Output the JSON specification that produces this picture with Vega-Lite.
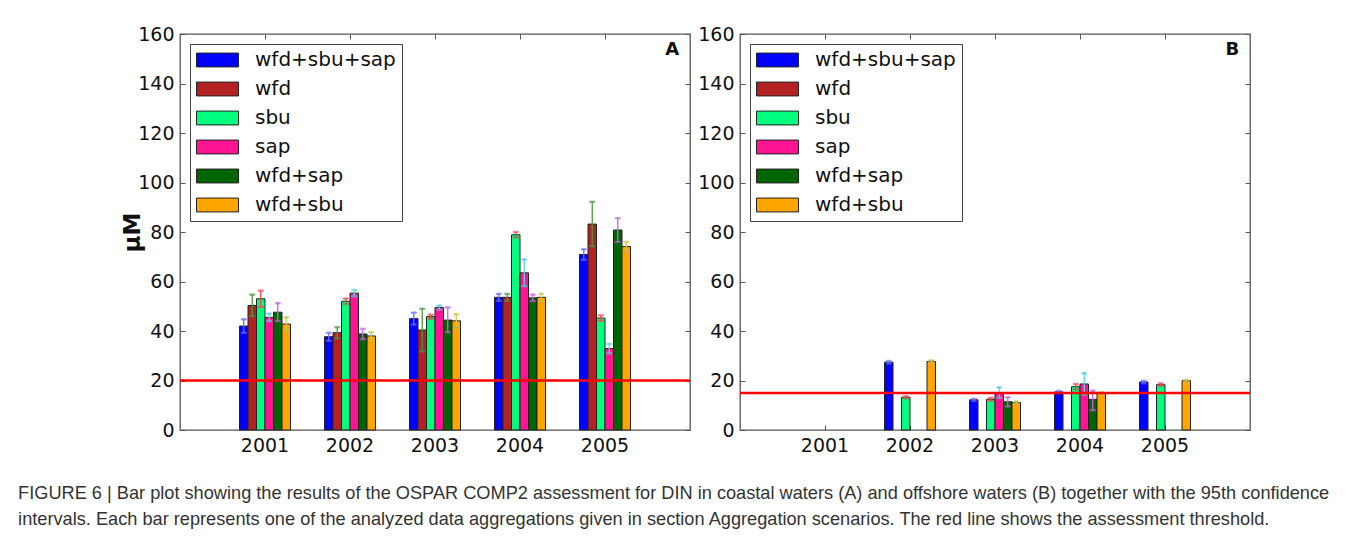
{
  "$schema": "https://vega.github.io/schema/vega-lite/v6.json",
  "padding": {"left": 18, "top": 24, "right": 5, "bottom": 5},
  "background": "white",
  "config": {
    "font": "DejaVu Sans",
    "view": {"stroke": "#555", "strokeWidth": 1.3},
    "axis": {"grid": false, "domain": false, "labelFont": "DejaVu Sans", "labelFontSize": 19, "labelColor": "#111", "tickColor": "#555", "tickSize": -5, "labelPadding": 11},
    "concat": {"spacing": 5},
    "legend": {"orient": "top-left", "title": null, "offset": 10, "padding": 6, "strokeColor": "#444", "fillColor": "white", "symbolType": "M-1,-0.33H1V0.33H-1Z", "symbolSize": 1764, "symbolStrokeColor": "#222", "symbolStrokeWidth": 1, "symbolOpacity": 1, "labelFont": "DejaVu Sans", "labelFontSize": 20, "labelColor": "#111", "labelOffset": 16, "clipHeight": 20, "rowPadding": 9, "labelLimit": 220, "cornerRadius": 0}
  },
  "datasets": {
    "bars": [
      {"panel": "A", "year": "2001", "series": "wfd+sbu+sap", "value": 42.0, "lo": 39.3, "hi": 44.7},
      {"panel": "A", "year": "2001", "series": "wfd", "value": 50.3, "lo": 46.0, "hi": 54.7},
      {"panel": "A", "year": "2001", "series": "sbu", "value": 53.0, "lo": 49.7, "hi": 56.3},
      {"panel": "A", "year": "2001", "series": "sap", "value": 45.5, "lo": 44.0, "hi": 47.0},
      {"panel": "A", "year": "2001", "series": "wfd+sap", "value": 47.6, "lo": 44.0, "hi": 51.2},
      {"panel": "A", "year": "2001", "series": "wfd+sbu", "value": 42.8, "lo": 40.1, "hi": 45.5},
      {"panel": "A", "year": "2002", "series": "wfd+sbu+sap", "value": 37.7, "lo": 36.1, "hi": 39.3},
      {"panel": "A", "year": "2002", "series": "wfd", "value": 39.3, "lo": 37.0, "hi": 41.5},
      {"panel": "A", "year": "2002", "series": "sbu", "value": 52.0, "lo": 50.9, "hi": 53.1},
      {"panel": "A", "year": "2002", "series": "sap", "value": 55.3, "lo": 54.0, "hi": 56.6},
      {"panel": "A", "year": "2002", "series": "wfd+sap", "value": 38.8, "lo": 36.7, "hi": 40.9},
      {"panel": "A", "year": "2002", "series": "wfd+sbu", "value": 38.0, "lo": 36.4, "hi": 39.6},
      {"panel": "A", "year": "2003", "series": "wfd+sbu+sap", "value": 45.0, "lo": 42.6, "hi": 47.4},
      {"panel": "A", "year": "2003", "series": "wfd", "value": 40.4, "lo": 31.8, "hi": 49.0},
      {"panel": "A", "year": "2003", "series": "sbu", "value": 45.8, "lo": 45.0, "hi": 46.6},
      {"panel": "A", "year": "2003", "series": "sap", "value": 49.5, "lo": 48.7, "hi": 50.3},
      {"panel": "A", "year": "2003", "series": "wfd+sap", "value": 44.4, "lo": 39.5, "hi": 49.5},
      {"panel": "A", "year": "2003", "series": "wfd+sbu", "value": 44.1, "lo": 41.4, "hi": 46.8},
      {"panel": "A", "year": "2004", "series": "wfd+sbu+sap", "value": 53.6, "lo": 52.2, "hi": 55.0},
      {"panel": "A", "year": "2004", "series": "wfd", "value": 53.6, "lo": 52.2, "hi": 55.0},
      {"panel": "A", "year": "2004", "series": "sbu", "value": 78.9, "lo": 77.8, "hi": 80.0},
      {"panel": "A", "year": "2004", "series": "sap", "value": 63.5, "lo": 58.1, "hi": 68.9},
      {"panel": "A", "year": "2004", "series": "wfd+sap", "value": 53.4, "lo": 52.1, "hi": 54.7},
      {"panel": "A", "year": "2004", "series": "wfd+sbu", "value": 53.6, "lo": 52.2, "hi": 55.0},
      {"panel": "A", "year": "2005", "series": "wfd+sbu+sap", "value": 70.9, "lo": 68.8, "hi": 73.0},
      {"panel": "A", "year": "2005", "series": "wfd", "value": 83.2, "lo": 74.2, "hi": 92.2},
      {"panel": "A", "year": "2005", "series": "sbu", "value": 45.2, "lo": 44.1, "hi": 46.3},
      {"panel": "A", "year": "2005", "series": "sap", "value": 32.9, "lo": 31.0, "hi": 34.8},
      {"panel": "A", "year": "2005", "series": "wfd+sap", "value": 80.8, "lo": 76.0, "hi": 85.6},
      {"panel": "A", "year": "2005", "series": "wfd+sbu", "value": 74.1, "lo": 72.2, "hi": 76.0},
      {"panel": "B", "year": "2002", "series": "wfd+sbu+sap", "value": 27.4, "lo": 26.9, "hi": 27.9},
      {"panel": "B", "year": "2002", "series": "sbu", "value": 13.2, "lo": 12.8, "hi": 13.6},
      {"panel": "B", "year": "2002", "series": "wfd+sbu", "value": 27.7, "lo": 27.3, "hi": 28.1},
      {"panel": "B", "year": "2003", "series": "wfd+sbu+sap", "value": 12.2, "lo": 11.8, "hi": 12.6},
      {"panel": "B", "year": "2003", "series": "sbu", "value": 12.4, "lo": 11.8, "hi": 13.0},
      {"panel": "B", "year": "2003", "series": "sap", "value": 15.1, "lo": 13.0, "hi": 17.2},
      {"panel": "B", "year": "2003", "series": "wfd+sap", "value": 11.4, "lo": 9.5, "hi": 13.2},
      {"panel": "B", "year": "2003", "series": "wfd+sbu", "value": 11.1, "lo": 10.7, "hi": 11.5},
      {"panel": "B", "year": "2004", "series": "wfd+sbu+sap", "value": 15.4, "lo": 15.0, "hi": 15.8},
      {"panel": "B", "year": "2004", "series": "sbu", "value": 17.5, "lo": 16.4, "hi": 18.6},
      {"panel": "B", "year": "2004", "series": "sap", "value": 18.6, "lo": 14.3, "hi": 22.9},
      {"panel": "B", "year": "2004", "series": "wfd+sap", "value": 12.4, "lo": 8.0, "hi": 15.9},
      {"panel": "B", "year": "2004", "series": "wfd+sbu", "value": 14.8, "lo": 14.4, "hi": 15.2},
      {"panel": "B", "year": "2005", "series": "wfd+sbu+sap", "value": 19.4, "lo": 18.9, "hi": 19.9},
      {"panel": "B", "year": "2005", "series": "sbu", "value": 18.3, "lo": 17.8, "hi": 18.8},
      {"panel": "B", "year": "2005", "series": "wfd+sbu", "value": 19.9, "lo": 19.5, "hi": 20.3}
    ],
    "thr": [
      {"panel": "A", "threshold": 20},
      {"panel": "B", "threshold": 15}
    ]
  },
  "title": {
    "text": [
      "FIGURE 6 | Bar plot showing the results of the OSPAR COMP2 assessment for DIN in coastal waters (A) and offshore waters (B) together with the 95th confidence",
      "intervals. Each bar represents one of the analyzed data aggregations given in section Aggregation scenarios. The red line shows the assessment threshold."
    ],
    "orient": "bottom",
    "anchor": "start",
    "frame": "bounds",
    "font": "Liberation Sans",
    "fontSize": 18.2,
    "fontWeight": "normal",
    "color": "#333",
    "lineHeight": 26,
    "offset": 29,
    "dx": -103
  },
  "hconcat": [
    {
      "width": 510,
      "height": 396,
      "title": {"text": "A", "anchor": "end", "offset": -34, "dx": -12, "fontSize": 18, "fontWeight": "bold", "font": "DejaVu Sans", "color": "#111"},
      "data": {"name": "bars"},
      "transform": [{"filter": "datum.panel == 'A'"}],
      "layer": [
        {
          "mark": {"type": "bar", "stroke": "#222", "strokeWidth": 1},
          "encoding": {
            "x": {"field": "year", "type": "nominal", "scale": {"domain": ["2001", "2002", "2003", "2004", "2005"], "paddingInner": 0.4, "paddingOuter": 0.7}, "axis": {"title": null, "labelAngle": 0, "orient": "bottom"}},
            "xOffset": {"field": "series", "scale": {"domain": ["wfd+sbu+sap", "wfd", "sbu", "sap", "wfd+sap", "wfd+sbu"], "paddingInner": 0, "paddingOuter": 0}},
            "y": {"field": "value", "type": "quantitative", "scale": {"domain": [0, 160]}, "axis": {"title": "μM", "values": [0, 20, 40, 60, 80, 100, 120, 140, 160], "titleFont": "DejaVu Sans", "titleFontSize": 23, "titleFontWeight": "bold", "titleColor": "#111", "titlePadding": -7}},
            "fill": {"field": "series", "scale": {"domain": ["wfd+sbu+sap", "wfd", "sbu", "sap", "wfd+sap", "wfd+sbu"], "range": ["#0000ff", "#b22222", "#00ff7f", "#ff1493", "#006400", "#ffa500"]}, "legend": {}}
          }
        },
        {
          "mark": {"type": "rule", "strokeWidth": 1.3},
          "encoding": {
            "x": {"field": "year", "type": "nominal", "axis": {"orient": "top", "labels": false, "title": null}},
            "xOffset": {"field": "series"},
            "y": {"field": "lo", "type": "quantitative", "axis": {"orient": "right", "labels": false, "title": null, "values": [0, 20, 40, 60, 80, 100, 120, 140, 160]}},
            "y2": {"field": "hi"},
            "stroke": {"field": "series", "scale": {"domain": ["wfd+sbu", "wfd+sap", "sap", "sbu", "wfd", "wfd+sbu+sap"], "range": ["#d8c840", "#d060e0", "#50d8e8", "#ff4040", "#4a9a3a", "#6a6aff"]}, "legend": null}
          }
        },
        {
          "mark": {"type": "tick", "size": 5, "thickness": 1.3},
          "encoding": {
            "x": {"field": "year", "type": "nominal", "axis": null},
            "xOffset": {"field": "series"},
            "y": {"field": "hi", "type": "quantitative", "axis": null},
            "stroke": {"field": "series", "legend": null}
          }
        },
        {
          "mark": {"type": "tick", "size": 5, "thickness": 1.3},
          "encoding": {
            "x": {"field": "year", "type": "nominal", "axis": null},
            "xOffset": {"field": "series"},
            "y": {"field": "lo", "type": "quantitative", "axis": null},
            "stroke": {"field": "series", "legend": null}
          }
        },
        {
          "data": {"name": "thr"},
          "transform": [{"filter": "datum.panel == 'A'"}],
          "mark": {"type": "rule", "color": "#ff0000", "strokeWidth": 2.5},
          "encoding": {"y": {"field": "threshold", "type": "quantitative", "axis": null}}
        }
      ],
      "resolve": {"axis": {"x": "independent", "y": "independent"}}
    },
    {
      "width": 510,
      "height": 396,
      "title": {"text": "B", "anchor": "end", "offset": -34, "dx": -12, "fontSize": 18, "fontWeight": "bold", "font": "DejaVu Sans", "color": "#111"},
      "data": {"name": "bars"},
      "transform": [{"filter": "datum.panel == 'B'"}],
      "layer": [
        {
          "mark": {"type": "bar", "stroke": "#222", "strokeWidth": 1},
          "encoding": {
            "x": {"field": "year", "type": "nominal", "scale": {"domain": ["2001", "2002", "2003", "2004", "2005"], "paddingInner": 0.4, "paddingOuter": 0.7}, "axis": {"title": null, "labelAngle": 0, "orient": "bottom"}},
            "xOffset": {"field": "series", "scale": {"domain": ["wfd+sbu+sap", "wfd", "sbu", "sap", "wfd+sap", "wfd+sbu"], "paddingInner": 0, "paddingOuter": 0}},
            "y": {"field": "value", "type": "quantitative", "scale": {"domain": [0, 160]}, "axis": {"title": null, "values": [0, 20, 40, 60, 80, 100, 120, 140, 160]}},
            "fill": {"field": "series", "scale": {"domain": ["wfd+sbu+sap", "wfd", "sbu", "sap", "wfd+sap", "wfd+sbu"], "range": ["#0000ff", "#b22222", "#00ff7f", "#ff1493", "#006400", "#ffa500"]}, "legend": {}}
          }
        },
        {
          "mark": {"type": "rule", "strokeWidth": 1.3},
          "encoding": {
            "x": {"field": "year", "type": "nominal", "axis": {"orient": "top", "labels": false, "title": null}},
            "xOffset": {"field": "series"},
            "y": {"field": "lo", "type": "quantitative", "axis": {"orient": "right", "labels": false, "title": null, "values": [0, 20, 40, 60, 80, 100, 120, 140, 160]}},
            "y2": {"field": "hi"},
            "stroke": {"field": "series", "scale": {"domain": ["wfd+sbu", "wfd+sap", "sap", "sbu", "wfd", "wfd+sbu+sap"], "range": ["#d8c840", "#d060e0", "#50d8e8", "#ff4040", "#4a9a3a", "#6a6aff"]}, "legend": null}
          }
        },
        {
          "mark": {"type": "tick", "size": 5, "thickness": 1.3},
          "encoding": {
            "x": {"field": "year", "type": "nominal", "axis": null},
            "xOffset": {"field": "series"},
            "y": {"field": "hi", "type": "quantitative", "axis": null},
            "stroke": {"field": "series", "legend": null}
          }
        },
        {
          "mark": {"type": "tick", "size": 5, "thickness": 1.3},
          "encoding": {
            "x": {"field": "year", "type": "nominal", "axis": null},
            "xOffset": {"field": "series"},
            "y": {"field": "lo", "type": "quantitative", "axis": null},
            "stroke": {"field": "series", "legend": null}
          }
        },
        {
          "data": {"name": "thr"},
          "transform": [{"filter": "datum.panel == 'B'"}],
          "mark": {"type": "rule", "color": "#ff0000", "strokeWidth": 2.5},
          "encoding": {"y": {"field": "threshold", "type": "quantitative", "axis": null}}
        }
      ],
      "resolve": {"axis": {"x": "independent", "y": "independent"}}
    }
  ],
  "resolve": {"scale": {"fill": "independent", "stroke": "independent"}, "legend": {"fill": "independent"}}
}
